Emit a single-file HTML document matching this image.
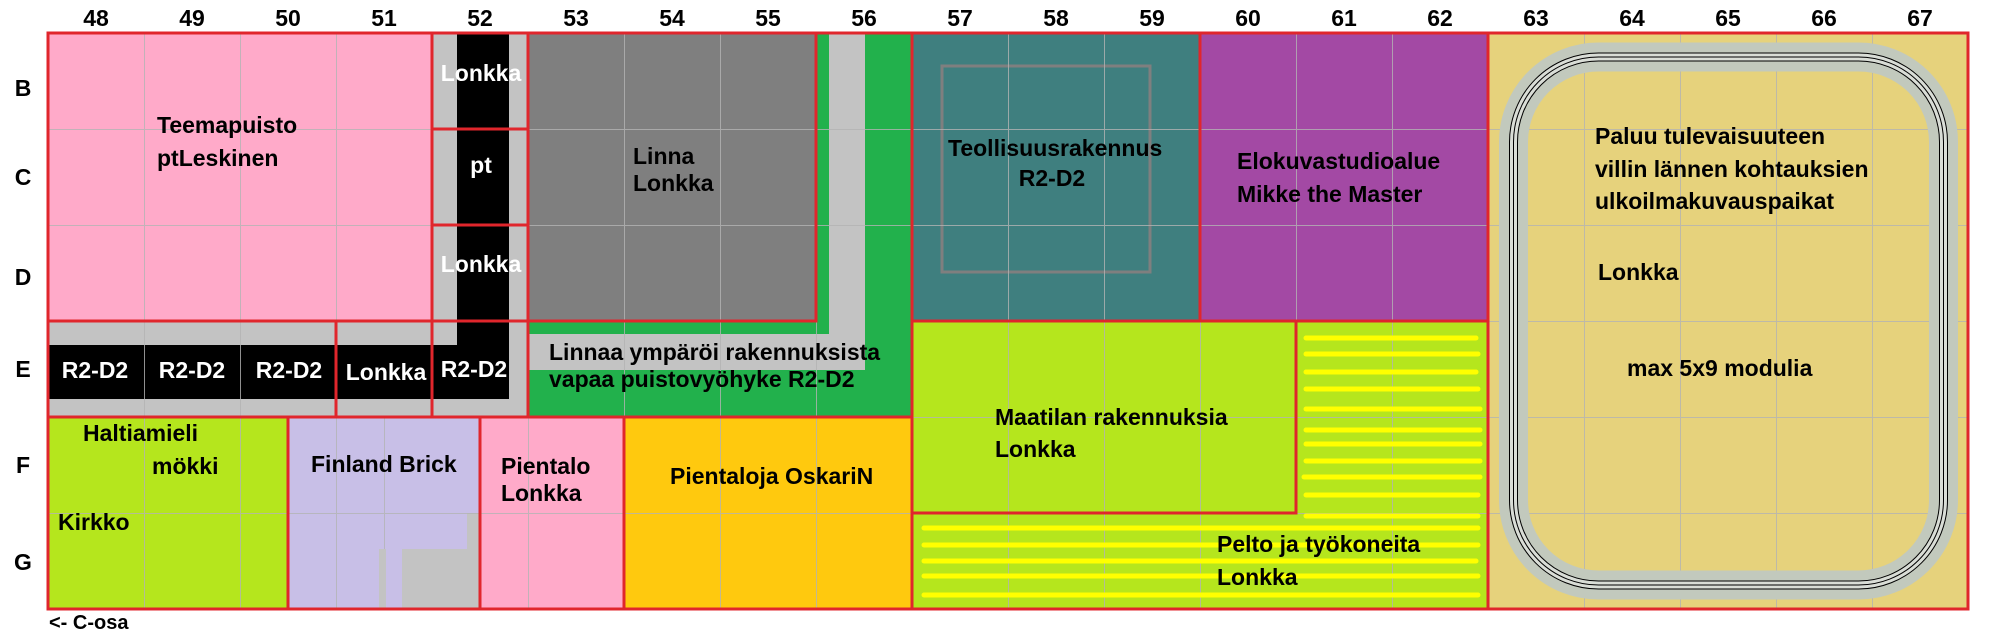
<!DOCTYPE html>
<html><head><meta charset="utf-8"><style>
html,body{margin:0;padding:0;background:#fff;}
svg{display:block;}
text{font-family:"Liberation Sans",sans-serif;font-weight:bold;font-size:23px;fill:#000;}
.w{fill:#fff;}
</style></head><body>
<svg width="2000" height="635" viewBox="0 0 2000 635" xmlns="http://www.w3.org/2000/svg">
<rect x="0" y="0" width="2000" height="635" fill="#fff"/>
<rect x="48" y="33" width="384" height="288" fill="#ffaac9"/>
<rect x="432" y="33" width="96" height="384" fill="#c3c3c3"/>
<rect x="48" y="321" width="384" height="96" fill="#c3c3c3"/>
<rect x="457" y="33" width="52" height="366" fill="#000"/>
<rect x="48" y="345" width="461" height="54" fill="#000"/>
<rect x="528" y="33" width="384" height="384" fill="#22b14c"/>
<rect x="829" y="33" width="36" height="337" fill="#c3c3c3"/>
<rect x="528" y="334" width="337" height="36" fill="#c3c3c3"/>
<rect x="528" y="33" width="288" height="288" fill="#7f7f7f"/>
<rect x="912" y="33" width="288" height="288" fill="#3f7f7f"/>
<rect x="942" y="66" width="208" height="206" fill="none" stroke="#7f7f7f" stroke-width="3"/>
<rect x="1200" y="33" width="288" height="288" fill="#a349a4"/>
<rect x="912" y="321" width="576" height="288" fill="#b5e61d"/>
<rect x="1488" y="33" width="480" height="576" fill="#e6d27c"/>
<rect x="48" y="417" width="240" height="192" fill="#b5e61d"/>
<rect x="288" y="417" width="192" height="192" fill="#c8bfe7"/>
<rect x="379" y="549" width="101" height="60" fill="#c3c3c3"/>
<rect x="386" y="549" width="16" height="60" fill="#c8bfe7"/>
<rect x="467" y="513" width="13" height="36" fill="#c3c3c3"/>
<rect x="480" y="417" width="144" height="192" fill="#ffaac9"/>
<rect x="624" y="417" width="288" height="192" fill="#ffc90e"/>
<g stroke="#b4b4b4" stroke-width="1" opacity="0.8">
<line x1="144.5" y1="33" x2="144.5" y2="609"/><line x1="240.5" y1="33" x2="240.5" y2="609"/>
<line x1="336.5" y1="33" x2="336.5" y2="609"/><line x1="624.5" y1="33" x2="624.5" y2="609"/>
<line x1="720.5" y1="33" x2="720.5" y2="609"/><line x1="816.5" y1="321" x2="816.5" y2="609"/>
<line x1="1008.5" y1="33" x2="1008.5" y2="609"/><line x1="1104.5" y1="33" x2="1104.5" y2="609"/>
<line x1="1296.5" y1="33" x2="1296.5" y2="321"/><line x1="1392.5" y1="33" x2="1392.5" y2="609"/>
<line x1="1584.5" y1="33" x2="1584.5" y2="609"/><line x1="1680.5" y1="33" x2="1680.5" y2="609"/>
<line x1="1776.5" y1="33" x2="1776.5" y2="609"/><line x1="1872.5" y1="33" x2="1872.5" y2="609"/>
<line x1="1200.5" y1="321" x2="1200.5" y2="609"/><line x1="384.5" y1="417" x2="384.5" y2="549"/><line x1="528.5" y1="417" x2="528.5" y2="609"/>
<line x1="48" y1="129.5" x2="432" y2="129.5"/><line x1="48" y1="225.5" x2="432" y2="225.5"/>
<line x1="528" y1="129.5" x2="1968" y2="129.5"/><line x1="528" y1="225.5" x2="1968" y2="225.5"/>
<line x1="1488" y1="321.5" x2="1968" y2="321.5"/><line x1="1296" y1="417.5" x2="1968" y2="417.5"/>
<line x1="48" y1="513.5" x2="1968" y2="513.5"/><line x1="912" y1="417.5" x2="1296" y2="417.5"/>
<line x1="865" y1="129.5" x2="912" y2="129.5"/><line x1="865" y1="225.5" x2="912" y2="225.5"/>
</g>
<g stroke="#ffff00" stroke-width="5" stroke-linecap="round">
<line x1="1306" y1="338" x2="1476" y2="338"/><line x1="1306" y1="354" x2="1478" y2="354"/>
<line x1="1306" y1="372" x2="1476" y2="372"/><line x1="1306" y1="389" x2="1478" y2="389"/>
<line x1="1306" y1="409" x2="1480" y2="409"/><line x1="1306" y1="430" x2="1480" y2="430"/>
<line x1="1306" y1="444" x2="1480" y2="444"/><line x1="1306" y1="461" x2="1480" y2="461"/>
<line x1="1304" y1="477" x2="1480" y2="477"/><line x1="1306" y1="495" x2="1478" y2="495"/>
<line x1="1306" y1="516" x2="1478" y2="516"/>
<line x1="924" y1="528" x2="1478" y2="528"/><line x1="924" y1="545" x2="1478" y2="545"/>
<line x1="924" y1="561" x2="1476" y2="561"/><line x1="924" y1="576" x2="1478" y2="576"/>
<line x1="924" y1="595" x2="1478" y2="595"/>
</g>
<rect x="1513.5" y="57" width="430" height="528" rx="85" fill="none" stroke="#c2c9bd" stroke-width="29"/>
<rect x="1513.5" y="57" width="430" height="528" rx="85" fill="none" stroke="#000" stroke-width="9"/>
<rect x="1513.5" y="57" width="430" height="528" rx="85" fill="none" stroke="#d9ddd6" stroke-width="7"/>
<rect x="1513.5" y="57" width="430" height="528" rx="85" fill="none" stroke="#000" stroke-width="1"/>
<g fill="none" stroke="#e0262c" stroke-width="3">
<rect x="48" y="33" width="1920" height="576"/>
<rect x="48" y="33" width="384" height="288"/>
<rect x="432" y="33" width="96" height="96"/><rect x="432" y="129" width="96" height="96"/><rect x="432" y="225" width="96" height="96"/>
<rect x="48" y="321" width="288" height="96"/><rect x="336" y="321" width="96" height="96"/><rect x="432" y="321" width="96" height="96"/>
<rect x="528" y="33" width="288" height="288"/>
<rect x="528" y="33" width="384" height="384"/>
<rect x="912" y="33" width="288" height="288"/><rect x="1200" y="33" width="288" height="288"/>
<rect x="912" y="321" width="384" height="192"/>
<rect x="912" y="321" width="576" height="288"/>
<rect x="1488" y="33" width="480" height="576"/>
<rect x="48" y="417" width="240" height="192"/><rect x="288" y="417" width="192" height="192"/>
<rect x="480" y="417" width="144" height="192"/><rect x="624" y="417" width="288" height="192"/>
</g>
<g text-anchor="middle">
<text x="96" y="26">48</text><text x="192" y="26">49</text><text x="288" y="26">50</text><text x="384" y="26">51</text>
<text x="480" y="26">52</text><text x="576" y="26">53</text><text x="672" y="26">54</text><text x="768" y="26">55</text>
<text x="864" y="26">56</text><text x="960" y="26">57</text><text x="1056" y="26">58</text><text x="1152" y="26">59</text>
<text x="1248" y="26">60</text><text x="1344" y="26">61</text><text x="1440" y="26">62</text><text x="1536" y="26">63</text>
<text x="1632" y="26">64</text><text x="1728" y="26">65</text><text x="1824" y="26">66</text><text x="1920" y="26">67</text>
<text x="23" y="96">B</text><text x="23" y="185">C</text><text x="23" y="285">D</text>
<text x="23" y="377">E</text><text x="23" y="473">F</text><text x="23" y="570">G</text>
</g>
<text x="49" y="629" style="font-size:20px">&lt;- C-osa</text>
<text x="157" y="133">Teemapuisto</text><text x="157" y="166">ptLeskinen</text>
<g text-anchor="middle">
<text class="w" x="481" y="81">Lonkka</text><text class="w" x="481" y="173">pt</text><text class="w" x="481" y="272">Lonkka</text>
<text class="w" x="95" y="378">R2-D2</text><text class="w" x="192" y="378">R2-D2</text><text class="w" x="289" y="378">R2-D2</text>
<text class="w" x="386" y="380">Lonkka</text><text class="w" x="474" y="377">R2-D2</text>
<text x="1052" y="186">R2-D2</text>
</g>
<text x="633" y="164">Linna</text><text x="633" y="191">Lonkka</text>
<text x="549" y="360">Linnaa ympäröi rakennuksista</text><text x="549" y="387">vapaa puistovyöhyke  R2-D2</text>
<text x="948" y="156">Teollisuusrakennus</text>
<text x="1237" y="169">Elokuvastudioalue</text><text x="1237" y="202">Mikke the Master</text>
<text x="995" y="425">Maatilan rakennuksia</text><text x="995" y="457">Lonkka</text>
<text x="1217" y="552">Pelto ja työkoneita</text><text x="1217" y="585">Lonkka</text>
<text x="1595" y="144">Paluu tulevaisuuteen</text><text x="1595" y="177">villin lännen kohtauksien</text><text x="1595" y="209">ulkoilmakuvauspaikat</text>
<text x="1598" y="280">Lonkka</text>
<text x="1627" y="376">max 5x9 modulia</text>
<text x="83" y="441">Haltiamieli</text><text x="152" y="474">mökki</text><text x="58" y="530">Kirkko</text>
<text x="311" y="472">Finland Brick</text>
<text x="501" y="474">Pientalo</text><text x="501" y="501">Lonkka</text>
<text x="670" y="484">Pientaloja  OskariN</text>
</svg>
</body></html>
